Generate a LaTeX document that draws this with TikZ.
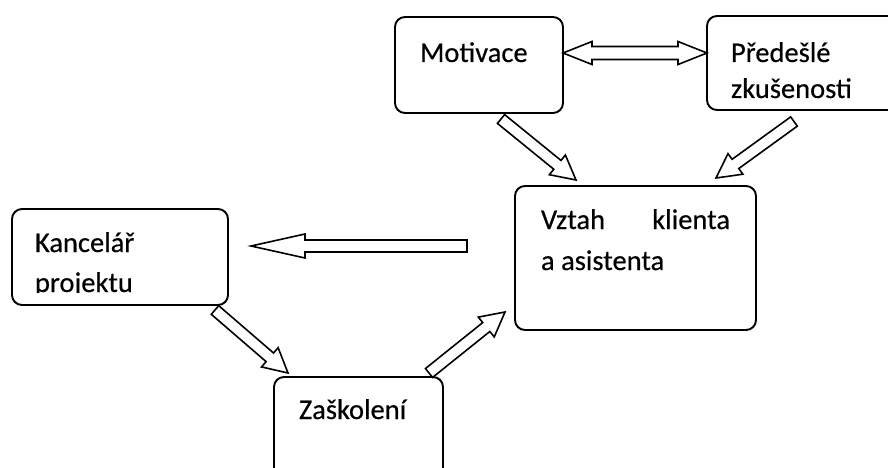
\documentclass[tikz,border=0pt]{standalone}
\usepackage{fontspec}
\setmainfont{Carlito}
\usetikzlibrary{calc}

% Hollow block arrow from #1 to #2: shaft half width #3, head half width #4, head length #5
\newcommand\blockarrow[5]{%
  \coordinate (ba-h) at ($(#2)!#5!(#1)$);
  \draw[blockarr]
    ($(#1)!#3!90:(#2)$) -- ($(ba-h)!#3!-90:(#1)$) -- ($(ba-h)!#4!-90:(#1)$) --
    (#2) --
    ($(ba-h)!#4!90:(#1)$) -- ($(ba-h)!#3!90:(#1)$) -- ($(#1)!#3!-90:(#2)$) -- cycle;}

% Hollow two-headed block arrow between #1 and #2
\newcommand\blockdblarrow[5]{%
  \coordinate (bd-a) at ($(#1)!#5!(#2)$);
  \coordinate (bd-b) at ($(#2)!#5!(#1)$);
  \draw[blockarr]
    (#1) -- ($(bd-a)!#4!90:(#2)$) -- ($(bd-a)!#3!90:(#2)$) --
    ($(bd-b)!#3!-90:(#1)$) -- ($(bd-b)!#4!-90:(#1)$) -- (#2) --
    ($(bd-b)!#4!90:(#1)$) -- ($(bd-b)!#3!90:(#1)$) --
    ($(bd-a)!#3!-90:(#2)$) -- ($(bd-a)!#4!-90:(#2)$) -- cycle;}

\tikzset{
  box/.style={draw, line width=1.9pt, rounded corners=10pt, rectangle,
    anchor=north west, inner sep=0pt, outer sep=0pt},
  label/.style={anchor=base west, inner sep=0pt, outer sep=0pt,
    font=\fontsize{28.5}{34}\selectfont\addfontfeature{FakeBold=0.4}},
  blockarr/.style={draw, fill=white, line width=1.6pt, line join=miter}
}

\begin{document}
\begin{tikzpicture}[x=1pt, y=-1pt]
\useasboundingbox (0,0) rectangle (888,468);
\clip (0,0) rectangle (888,468);

% boxes
\node[box, minimum width=168pt, minimum height=96pt] (mot) at (395,17) {};
\node[box, minimum width=250pt, minimum height=94pt] (pre) at (707,16) {};
\node[box, minimum width=216pt, minimum height=96pt] (kan) at (12,209) {};
\node[box, minimum width=169pt, minimum height=140pt] (zas) at (274,377) {};
\node[box, minimum width=241pt, minimum height=144pt] (vzt) at (515,186) {};

% labels
\node[label] (mot-t) at (420,62) {Motivace};
\node[label] (pre-t1) at (731,62) {Předešlé};
\node[label] (pre-t2) at (731,98) {zkušenosti};
\node[label] (kan-t1) at (35,252) {Kancelář};
\begin{scope}
  \clip (12,209) rectangle (228,292);
  \node[label] (kan-t2) at (35,292) {projektu};
\end{scope}
\node[label] (zas-t) at (299,419) {Zaškolení};
\node[label] (vzt-t1) at (541,229) {Vztah};
\node[label, anchor=base east] (vzt-t2) at (730,229) {klienta};
\node[label] (vzt-t3) at (541,270) {a asistenta};

% arrow ends
\coordinate (a1) at (563,53);
\coordinate (b1) at (707,53);
\coordinate (a2) at (501,119);
\coordinate (b2) at (576,180);
\coordinate (a3) at (794,121.5);
\coordinate (b3) at (716,178);
\coordinate (a4) at (467,246);
\coordinate (b4) at (251,246);
\coordinate (a5) at (215,310);
\coordinate (b5) at (288,373);
\coordinate (a6) at (429,373);
\coordinate (b6) at (505,312);

% arrows
\blockdblarrow{a1}{b1}{6.5pt}{11.5pt}{29pt}
\blockarrow{a2}{b2}{5.7pt}{12.7pt}{24pt}
\blockarrow{a3}{b3}{5.7pt}{12.7pt}{24pt}
\blockarrow{a4}{b4}{6pt}{12pt}{54pt}
\blockarrow{a5}{b5}{5.7pt}{12.7pt}{24pt}
\blockarrow{a6}{b6}{5.7pt}{12.7pt}{24pt}
\end{tikzpicture}
\end{document}
